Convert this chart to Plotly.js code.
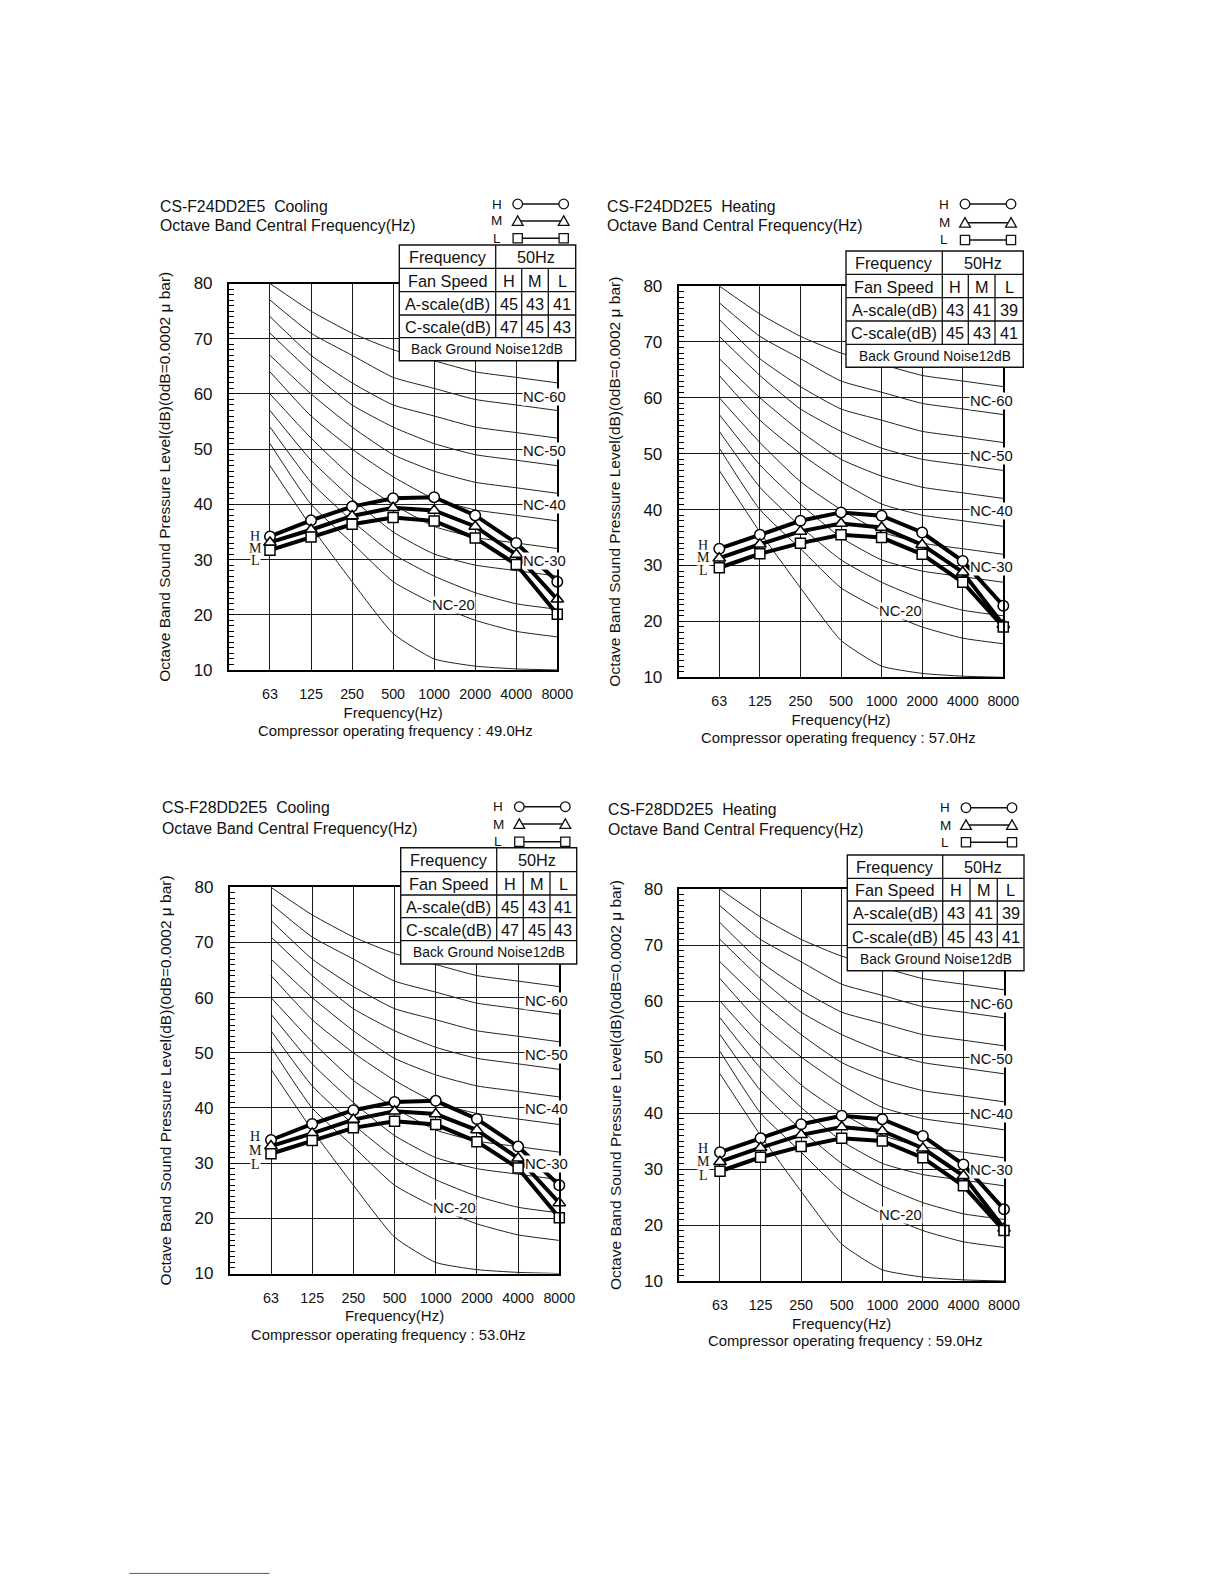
<!DOCTYPE html>
<html>
<head>
<meta charset="utf-8">
<script src="https://cdn.plot.ly/plotly-3.0.1.min.js"></script>
<style>
html,body{margin:0;padding:0;background:#fff;}
#chart{width:1224px;height:1584px;}
</style>
</head>
<body>
<div id="chart"></div>
<script>
// ---------------- DATA ----------------
const freqLabels = ['63', '125', '250', '500', '1000', '2000', '4000', '8000'];
const bandIndex = [0, 1, 2, 3, 4, 5, 6, 7];

// Cooling (CS-F24DD2E5 / CS-F28DD2E5) octave band levels, dB
const coolingH = [34.2, 37.1, 39.6, 41.1, 41.3, 38.0, 33.0, 26.0];
const coolingM = [33.1, 35.4, 37.9, 39.4, 38.9, 36.0, 30.9, 22.8];
const coolingL = [31.7, 34.1, 36.4, 37.6, 37.0, 33.9, 29.1, 20.1];

// Heating octave band levels, dB
const heatingH = [33.0, 35.5, 38.0, 39.5, 38.9, 35.9, 30.8, 22.8];
const heatingM = [31.3, 33.8, 36.1, 37.5, 36.8, 33.7, 28.8, 19.4];
const heatingL = [29.6, 32.1, 34.0, 35.5, 35.0, 32.0, 27.0, 19.0];

// NC reference curves
const nc15 = [47, 36, 26, 16.6, 12, 10.7, 10.2, 10];
const nc20 = [51, 40, 33, 26, 22, 19, 17, 16];
const nc25 = [54, 44, 37, 31, 27, 24, 22, 21];
const nc30 = [57, 48, 41, 35, 31, 29, 28, 27];
const nc35 = [60, 52, 45, 40, 36, 34, 33, 32];
const nc40 = [64, 56, 50, 45, 41, 39, 38, 37];
const nc45 = [67, 60, 54, 49, 46, 44, 43, 42];
const nc50 = [71, 64, 58, 54, 51, 49, 48, 47];
const nc55 = [74, 67, 62, 58, 56, 54, 53, 52];
const nc60 = [77, 71, 67, 63, 61, 59, 58, 57];
const nc65 = [80, 75, 71, 68, 66, 64, 63, 62];
const ncCurves = [nc15, nc20, nc25, nc30, nc35, nc40, nc45, nc50, nc55, nc60, nc65];

const ncLabelTexts = ['NC-60', 'NC-50', 'NC-40', 'NC-30', 'NC-20'];
const ncLabelX = [6.7, 6.7, 6.7, 6.7, 4.46];
const ncLabelY = [59.4, 49.6, 39.8, 29.8, 21.8];

// Panel texts / table values
const modelNames = ['CS-F24DD2E5', 'CS-F24DD2E5', 'CS-F28DD2E5', 'CS-F28DD2E5'];
const modeNames = ['Cooling', 'Heating', 'Cooling', 'Heating'];
const compressorHz = ['49.0', '57.0', '53.0', '59.0'];
const supplyFrequency = '50Hz';
const fanSpeeds = ['H', 'M', 'L'];
const aScaleCooling = [45, 43, 41];
const cScaleCooling = [47, 45, 43];
const aScaleHeating = [43, 41, 39];
const cScaleHeating = [45, 43, 41];
const backgroundNoise = 'Back Ground Noise12dB';

const panelSeries = [
  [coolingH, coolingM, coolingL],
  [heatingH, heatingM, heatingL],
  [coolingH, coolingM, coolingL],
  [heatingH, heatingM, heatingL]
];
const panelA = [aScaleCooling, aScaleHeating, aScaleCooling, aScaleHeating];
const panelC = [cScaleCooling, cScaleHeating, cScaleCooling, cScaleHeating];

// ---------------- GEOMETRY (page pixels) ----------------
const geometry = [
  {x63: 270, x8000: 557.3, y80: 283.5, y10: 670, head: [158, 206, 225], leg: [496.7, [204, 221, 238.3]],
   rows: [245, 268.3, 291.7, 315, 337.7, 360.7], cols: [399.3, 495.7, 521.7, 548.3, 575.7],
   comp: [395, 731], hml: [255, [536, 548.3, 560.7]]},
  {x63: 719.3, x8000: 1003.3, y80: 286, y10: 677.3, head: [605, 206, 225], leg: [944, [204, 222.7, 240]],
   rows: [251, 274.3, 297.7, 321, 344.3, 367.3], cols: [846, 942.3, 968.3, 995, 1023.3],
   comp: [838, 738.5], hml: [703.3, [545, 557.7, 570.7]]},
  {x63: 271, x8000: 559.3, y80: 887.3, y10: 1273.5, head: [160, 808, 828], leg: [498.3, [806.7, 824, 841.7]],
   rows: [847.7, 871.7, 895, 917.7, 940.7, 964], cols: [400.7, 496.7, 523.3, 550, 576.7],
   comp: [388, 1335], hml: [255, [1136.7, 1150, 1164]]},
  {x63: 720, x8000: 1004, y80: 889, y10: 1281, head: [606, 809.5, 829], leg: [945, [807.7, 825, 842.3]],
   rows: [855, 878.3, 901, 924.3, 947.7, 970.7], cols: [847.3, 942.7, 970, 997.3, 1024],
   comp: [845, 1340.5], hml: [703.3, [1148.3, 1161.7, 1175]]}
];

// ---------------- BUILD ----------------
const W = 1224, H = 1584;
const px = x => x / W;
const py = y => 1 - y / H;
const SANS = 'Liberation Sans, Arial, sans-serif';
const SERIF = 'Liberation Serif, Times New Roman, serif';
const INK = '#111';

const traces = [];
const shapes = [];
const annotations = [];
const layout = {
  width: W, height: H,
  margin: {l: 0, r: 0, t: 0, b: 0},
  paper_bgcolor: '#ffffff', plot_bgcolor: '#ffffff',
  showlegend: false,
  font: {family: SANS, color: INK},
  shapes: shapes, annotations: annotations
};

function txt(x, y, text, size, opts) {
  annotations.push(Object.assign({
    xref: 'paper', yref: 'paper', x: px(x), y: py(y), text: text,
    showarrow: false, xanchor: 'center', yanchor: 'middle',
    font: {family: SANS, size: size, color: INK}
  }, opts || {}));
}
function pline(x0, y0, x1, y1, w, color) {
  shapes.push({type: 'line', xref: 'paper', yref: 'paper', x0: px(x0), y0: py(y0), x1: px(x1), y1: py(y1),
    line: {color: color || INK, width: w}});
}
function legendSymbol(kind, cx, cy) {
  const r = 4.8;
  if (kind === 0) {
    shapes.push({type: 'circle', xref: 'paper', yref: 'paper', x0: px(cx - r), x1: px(cx + r), y0: py(cy + r), y1: py(cy - r),
      fillcolor: '#fff', line: {color: INK, width: 1.3}});
  } else if (kind === 1) {
    const p = 'M' + px(cx - 5.4) + ',' + py(cy + 4.4) + ' L' + px(cx + 5.4) + ',' + py(cy + 4.4) + ' L' + px(cx) + ',' + py(cy - 5.1) + ' Z';
    shapes.push({type: 'path', xref: 'paper', yref: 'paper', path: p, fillcolor: '#fff', line: {color: INK, width: 1.3}});
  } else {
    shapes.push({type: 'rect', xref: 'paper', yref: 'paper', x0: px(cx - 4.6), x1: px(cx + 4.6), y0: py(cy + 4.6), y1: py(cy - 4.6),
      fillcolor: '#fff', line: {color: INK, width: 1.3}});
  }
}

const markerSymbols = ['circle', 'triangle-up', 'square'];
const markerSizes = [10.5, 11, 10];

geometry.forEach((g, i) => {
  const n = i === 0 ? '' : String(i + 1);
  const xa = 'x' + n, ya = 'y' + n;
  const step = (g.x8000 - g.x63) / 7;
  const left = g.x63 - step;

  layout['xaxis' + n] = {
    domain: [px(left), px(g.x8000)], anchor: ya,
    range: [-1, 7], tickmode: 'array', tickvals: bandIndex, ticktext: freqLabels,
    showgrid: true, gridcolor: '#1c1c1c', gridwidth: 1, zeroline: false,
    showline: true, linecolor: '#000', linewidth: 2, mirror: true,
    ticks: '', ticklabelstandoff: 10,
    tickfont: {family: SANS, size: 14.3, color: INK},
    title: {text: 'Frequency(Hz)', font: {family: SANS, size: 15, color: INK}, standoff: 6},
    fixedrange: true
  };
  layout['yaxis' + n] = {
    domain: [py(g.y10), py(g.y80)], anchor: xa,
    range: [10, 80], tickmode: 'linear', tick0: 10, dtick: 10,
    showgrid: true, gridcolor: '#1c1c1c', gridwidth: 1, zeroline: false,
    showline: true, linecolor: '#000', linewidth: 2, mirror: true,
    ticks: 'inside', ticklen: 5, tickcolor: '#000', tickwidth: 1,
    minor: {tick0: 10, dtick: 1, ticks: 'inside', ticklen: 5, tickcolor: '#000', tickwidth: 1, showgrid: false},
    ticklabelstandoff: 11,
    tickfont: {family: SANS, size: 17, color: INK},
    title: {text: 'Octave Band Sound Pressure Level(dB)(0dB=0.0002 \u03bc bar)', font: {family: SANS, size: 15.5, color: INK}, standoff: 19},
    fixedrange: true
  };

  // NC curves
  ncCurves.forEach(c => {
    traces.push({type: 'scatter', mode: 'lines', x: bandIndex, y: c, xaxis: xa, yaxis: ya,
      line: {color: '#222', width: 1, shape: 'spline', smoothing: 0.5}, hoverinfo: 'skip'});
  });
  // Data lines
  const s = panelSeries[i];
  s.forEach(vals => {
    traces.push({type: 'scatter', mode: 'lines', x: bandIndex, y: vals, xaxis: xa, yaxis: ya,
      line: {color: '#000', width: 4}, hoverinfo: 'skip'});
  });
  // Data markers
  s.forEach((vals, k) => {
    traces.push({type: 'scatter', mode: 'markers', x: bandIndex, y: vals, xaxis: xa, yaxis: ya, cliponaxis: false,
      marker: {symbol: markerSymbols[k], size: markerSizes[k], color: '#fff', line: {color: '#000', width: 1.5}},
      name: fanSpeeds[k]});
  });

  // NC labels
  ncLabelTexts.forEach((t, k) => {
    annotations.push({xref: xa, yref: ya, x: ncLabelX[k], y: ncLabelY[k], text: t, showarrow: false,
      xanchor: 'center', yanchor: 'middle', bgcolor: '#fff', borderpad: 0,
      font: {family: SANS, size: 14.8, color: INK}});
  });

  // H M L labels near 63 Hz
  fanSpeeds.forEach((f, k) => {
    txt(g.hml[0], g.hml[1][k], f, 14, {font: {family: SERIF, size: 14, color: INK}, bgcolor: '#fff', borderpad: 0});
  });

  // Headers
  txt(g.head[0], g.head[1], modelNames[i] + '\u00a0\u00a0' + modeNames[i], 15.8, {xanchor: 'left'});
  txt(g.head[0], g.head[2], 'Octave Band Central Frequency(Hz)', 15.8, {xanchor: 'left'});

  // Legend (H/M/L symbols)
  fanSpeeds.forEach((f, k) => {
    const ly = g.leg[1][k];
    txt(g.leg[0], ly, f, 13.5);
    pline(g.leg[0] + 21, ly, g.leg[0] + 67, ly, 1.5);
    legendSymbol(k, g.leg[0] + 21, ly);
    legendSymbol(k, g.leg[0] + 67, ly);
  });

  // Table
  const r = g.rows, c = g.cols;
  shapes.push({type: 'rect', xref: 'paper', yref: 'paper', x0: px(c[0]), x1: px(c[4]), y0: py(r[5]), y1: py(r[0]),
    fillcolor: '#fff', line: {color: INK, width: 1.4}});
  for (let k = 1; k <= 4; k++) pline(c[0], r[k], c[4], r[k], 1.3);
  pline(c[1], r[0], c[1], r[4], 1.3);
  pline(c[2], r[1], c[2], r[4], 1.3);
  pline(c[3], r[1], c[3], r[4], 1.3);
  const cy = k => (r[k] + r[k + 1]) / 2 + 0.5;
  txt((c[0] + c[1]) / 2, cy(0), 'Frequency', 16.3);
  txt((c[1] + c[4]) / 2, cy(0), supplyFrequency, 16.3);
  txt((c[0] + c[1]) / 2, cy(1), 'Fan Speed', 16.3);
  txt((c[0] + c[1]) / 2, cy(2), 'A-scale(dB)', 16.3);
  txt((c[0] + c[1]) / 2, cy(3), 'C-scale(dB)', 16.3);
  fanSpeeds.forEach((f, k) => {
    const cx = (c[k + 1] + c[k + 2]) / 2;
    txt(cx, cy(1), f, 16.3);
    txt(cx, cy(2), String(panelA[i][k]), 16.3);
    txt(cx, cy(3), String(panelC[i][k]), 16.3);
  });
  txt((c[0] + c[4]) / 2, cy(4), backgroundNoise, 13.8);

  // Compressor operating frequency
  txt(g.comp[0], g.comp[1], 'Compressor operating frequency : ' + compressorHz[i] + 'Hz', 14.8);
});

// stray blue underline at the bottom of the page
pline(129.3, 1573.4, 269.6, 1573.4, 1, '#3b55d6');

Plotly.newPlot('chart', traces, layout, {displayModeBar: false, staticPlot: true});
</script>
</body>
</html>
